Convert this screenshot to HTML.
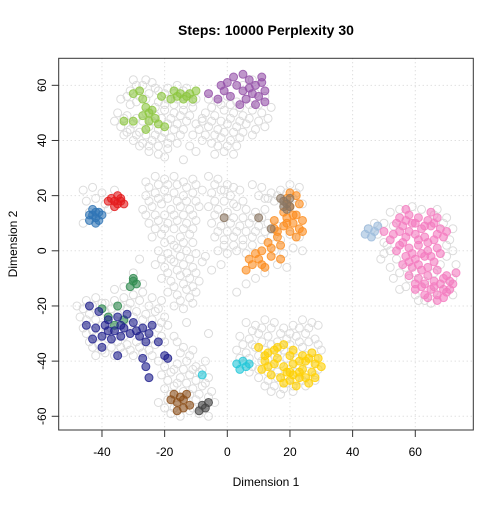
<!DOCTYPE html>
<html><head><meta charset="utf-8"><style>
body{margin:0;background:#fff}
svg{font-family:"Liberation Sans",Arial,sans-serif}
</style></head><body>
<svg id="chart" width="504" height="504" viewBox="0 0 504 504">
<rect x="0" y="0" width="504" height="504" fill="#fff"/>
<text x="266" y="35" text-anchor="middle" font-weight="bold" font-size="14">Steps: 10000 Perplexity 30</text>
<g id="grid"></g>
<g id="gray"></g>
<g id="colored"></g>
<rect x="58.7" y="58.3" width="414.6" height="371.7" fill="none" stroke="#333" stroke-width="1"/>
<g id="axes"></g>
<text x="266" y="486" text-anchor="middle" font-size="12">Dimension 1</text>
<text x="17" y="244" text-anchor="middle" font-size="12" transform="rotate(-90 17 244)">Dimension 2</text>
</svg>
<script>
const xTicks=[-40,-20,0,20,40,60];
const yTicks=[-60,-40,-20,0,20,40,60];
const grayPts="-30 62,-27 60,-24 61,-31 58,-28 56,-25 57,-22 58,-19 59,-16 60,-13 59,-34 55,-31 53,-22 54,-19 55,-16 55,-13 56,-10 55,-35 50,-32 49,-29 48,-26 50,-23 49,-20 51,-17 50,-14 51,-11 52,-34 45,-31 44,-28 43,-25 45,-22 44,-19 46,-16 46,-13 47,-30 40,-27 39,-24 40,-21 41,-18 41,-15 42,-25 36,-22 35,-19 37,-33 42,-36 47,-8 48,-9 44,-6 55,-3 54,0 56,3 54,6 55,9 57,12 56,-7 50,-4 49,-1 51,2 50,5 49,8 51,11 50,14 52,-6 45,-3 44,0 46,3 45,6 46,9 44,12 45,-8 40,-5 39,-2 41,1 40,4 41,-1 36,-4 35,2 35,-12 38,-14 33,5 60,8 62,-46 22,-43 23,-40 21,-45 18,-42 19,-39 17,-44 14,-41 13,-38 15,-36 22,-46 10,-26 25,-23 27,-20 26,-17 27,-14 25,-11 26,-26 20,-23 21,-20 22,-17 21,-14 20,-11 21,-8 22,-27 15,-24 16,-21 17,-18 15,-15 16,-12 15,-9 16,-25 10,-22 11,-19 10,-16 11,-13 10,-10 11,-24 5,-21 6,-18 4,-15 5,-12 6,-22 0,-19 -1,-16 1,-13 0,-10 -1,-23 -5,-20 -6,-17 -4,-14 -5,-11 -6,-8 -4,-21 -10,-18 -11,-15 -9,-12 -10,-9 -11,-19 -15,-16 -16,-13 -14,-10 -15,-17 -20,-14 -21,-11 -19,-28 -3,-30 -8,-27 -12,-6 27,-3 26,0 24,-5 21,-2 22,1 20,4 22,-6 16,-3 15,0 14,3 16,6 15,9 14,12 15,-5 10,-2 9,1 10,4 9,7 10,10 9,13 10,16 9,-4 5,-1 4,2 5,5 4,8 5,11 4,-3 0,0 -1,3 0,6 -1,8 24,11 23,14 21,17 22,20 24,23 23,15 18,18 17,21 19,24 17,12 19,-7 -2,-5 -7,-2 -5,-48 -20,-45 -18,-42 -17,-39 -19,-36 -18,-33 -17,-30 -16,-27 -15,-24 -17,-21 -18,-47 -24,-44 -23,-41 -22,-38 -24,-35 -23,-32 -21,-29 -22,-26 -23,-23 -22,-20 -24,-46 -28,-43 -29,-40 -27,-37 -28,-34 -29,-31 -27,-28 -28,-25 -29,-22 -28,-19 -27,-44 -33,-41 -34,-38 -32,-35 -33,-32 -34,-29 -33,-26 -32,-23 -34,-20 -33,-42 -38,-39 -37,-36 -38,-33 -37,-30 -38,-27 -37,-24 -38,-30 -10,-33 -13,-36 -14,-22 -40,-19 -39,-16 -41,-13 -40,-10 -42,-7 -40,-21 -45,-18 -44,-15 -46,-12 -45,-9 -44,-6 -46,-20 -50,-17 -49,-14 -51,-11 -50,-8 -49,-5 -51,-22 -55,-19 -54,-16 -56,-13 -55,-10 -54,-7 -56,-18 -59,-15 -60,-12 -58,-9 -59,-6 -60,-4 -55,-14 -35,-11 -36,-17 -31,-13 -26,-6 -30,6 -26,9 -27,12 -25,15 -26,18 -28,21 -27,24 -25,27 -26,4 -31,7 -32,10 -30,13 -31,16 -33,19 -32,22 -31,25 -30,28 -32,3 -36,6 -37,9 -35,12 -36,15 -38,18 -36,21 -37,24 -35,27 -37,30 -36,5 -41,8 -42,11 -40,14 -42,17 -41,20 -43,23 -42,26 -41,29 -43,10 -46,13 -47,16 -46,19 -48,22 -47,25 -49,28 -47,14 -51,17 -52,21 -51,29 -27,14 5,17 4,20 6,23 5,15 0,18 -1,21 1,24 0,16 -5,19 -6,12 -8,9 -10,6 -12,3 -15,45 8,48 6,50 3,52 0,49 -3,52 -6,55 -8,58 -10,55 -14,60 -16,63 -18,66 -15,70 -13,72 -10,73 -5,70 2,72 8,70 12,67 15,52 14";
const grayPts2="-29 60,-26 62,-23 59,-20 57,-17 57,-14 58,-32 56,-29 54,-26 55,-23 52,-20 53,-17 53,-14 53,-11 54,-33 48,-30 46,-27 47,-24 47,-21 48,-18 48,-15 49,-12 49,-32 43,-29 42,-26 42,-23 42,-20 43,-17 44,-14 44,-28 38,-25 38,-22 38,-19 39,-16 39,-20 34,-10 46,-11 42,-5 52,-2 53,1 53,4 52,7 53,10 53,-8 47,-5 47,-2 47,1 48,4 47,7 48,10 47,13 48,-7 42,-4 42,-1 43,2 43,5 43,8 42,-3 38,0 38,3 38,-10 36,-25 23,-22 24,-19 24,-16 24,-13 23,-10 24,-25 18,-22 19,-19 19,-16 18,-13 18,-10 18,-26 13,-23 13,-20 13,-17 13,-14 13,-11 13,-23 8,-20 8,-17 8,-14 8,-11 8,-20 3,-17 2,-14 3,-11 3,-21 -3,-18 -3,-15 -2,-12 -3,-19 -8,-16 -7,-13 -8,-10 -8,-17 -13,-14 -12,-11 -13,-15 -18,-12 -17,-4 24,-1 22,2 23,-4 18,-1 18,2 17,5 18,-4 13,-1 12,2 12,5 12,8 12,11 12,-3 7,0 7,3 7,6 7,9 7,12 7,-1 2,2 2,5 2,8 2,10 20,13 19,16 20,19 21,22 21,-46 -21,-43 -20,-40 -19,-37 -21,-34 -20,-31 -19,-28 -18,-25 -20,-22 -21,-45 -25,-42 -25,-39 -22,-36 -25,-33 -26,-30 -24,-27 -25,-24 -25,-21 -26,-45 -30,-42 -31,-39 -30,-36 -31,-33 -31,-30 -29,-27 -31,-24 -32,-21 -31,-43 -35,-40 -36,-37 -35,-34 -35,-31 -36,-28 -35,-25 -36,-20 -42,-17 -43,-14 -43,-11 -43,-8 -43,-19 -47,-16 -48,-13 -48,-10 -47,-7 -48,-18 -52,-15 -53,-12 -52,-9 -52,-6 -53,-20 -57,-17 -57,-11 -57,-8 -57,-15 -37,-12 -38,-16 -33,8 -29,11 -28,14 -28,17 -30,20 -30,23 -28,26 -28,5 -34,8 -34,11 -33,14 -34,17 -35,20 -34,23 -33,26 -33,29 -34,4 -39,7 -39,10 -38,13 -39,16 -37,19 -39,22 -39,25 -38,28 -39,7 -44,10 -43,13 -44,16 -44,19 -45,22 -44,25 -45,28 -45,12 -49,15 -49,18 -50,21 -49,24 -47,47 10,50 10,53 9,51 2,50 -1,54 -3,57 -6,60 -8,63 -11,66 -8,68 -5,70 -2,72 0,71 4,69 10,66 13,62 15,59 16,55 15,53 -10,57 -13,61 -18,65 -19,72 -16";
const greenPts="-30 57,-28 58,-27 55,-26 52,-25 50,-27 49,-24 51,-23 48,-22 46,-25 47,-20 45,-30 47,-33 47,-26 44,-15 57,-16 56,-13 56,-12 57,-17 58,-14 55,-11 55,-18 55,-10 58,-21 56";
const purplePts="2 63,5 64,7 62,9 60,11 61,12 58,10 56,8 57,5 58,3 60,6 55,4 53,1 56,-1 58,-3 55,-6 57,-2 60,12 54,9 53,7 59,11 63,0 61";
const redPts="-37 19,-36 18,-35 20,-34 18,-33 17,-36 16,-38 18,-35 17,-34 19";
const bluePts="-43 13,-42 12,-41 14,-44 11,-42 10,-43 15,-41 11,-44 13,-40 13,-42 14";
const lightbluePts="45 8,47 7,46 5,48 9,44 6";
const pinkPts="55 12,58 13,61 12,64 11,67 12,56 9,59 10,62 8,65 9,68 8,53 6,57 5,60 6,63 5,66 4,69 5,55 2,58 1,61 2,64 0,67 1,57 -2,60 -3,63 -2,66 -4,56 -5,59 -6,62 -7,58 -9,61 -10,64 -9,62 -13,65 -14,68 -12,67 -16,70 -15,72 -12,70 -9,71 -11,63 -16,66 -11,69 -14,54 0,52 4,50 7,57 15,65 14,60 -14,69 -17,73 -8,54 10,57 11,60 10,63 9,66 10,55 7,58 7,61 4,64 3,67 6,70 7,56 3,59 -1,62 -1,65 -2,68 -1,58 -4,61 -5,64 -6,67 -7,60 -12,63 -12,66 -13,69 -10,64 -17,67 -18,71 -14";
const orangePts="19 19,22 20,20 16,18 14,22 13,24 11,21 10,18 9,15 8,20 7,23 8,16 5,13 3,17 2,11 0,14 -2,10 -3,8 -5,12 -6,6 -7,9 -1,19 12,15 11,24 7,17 -3,20 21,23 17,21 13,19 10,16 7,22 5,14 1,11 -5,7 -3";
const taupePts="18 18,19 17,20 19,18 16,19 15,17 19,20 16,-1 12,10 12,14 8";
const darkgreenPts="-30 -10,-29 -12,-31 -13,-30 -11,-35 -20,-38 -24,-40 -21,-36 -27,-33 -25";
const navyPts="-44 -20,-41 -22,-38 -25,-45 -27,-42 -28,-39 -27,-36 -29,-33 -28,-30 -26,-27 -28,-24 -27,-40 -31,-37 -32,-34 -31,-31 -30,-28 -31,-25 -30,-43 -32,-35 -24,-32 -23,-26 -33,-22 -33,-20 -38,-19 -39,-27 -39,-26 -42,-25 -46,-35 -38,-40 -35,-38 -29,-34 -27,-29 -29";
const goldPts="10 -35,13 -37,16 -35,18 -34,21 -36,24 -38,27 -37,29 -39,12 -40,15 -41,18 -42,21 -41,24 -43,27 -44,30 -42,14 -45,17 -46,20 -47,23 -46,26 -48,22 -49,19 -44,16 -39,25 -40,28 -41,11 -43,12 -38,15 -36,20 -38,23 -40,26 -39,13 -42,20 -44,23 -44,25 -46,18 -48,21 -45,28 -46";
const cyanPts="3 -41,5 -40,6 -42,4 -43,7 -41,-8 -45";
const brownPts="-17 -52,-15 -53,-13 -52,-16 -55,-14 -54,-18 -54,-12 -56,-16 -58,-14 -57";
const blackPts="-8 -56,-7 -57,-9 -58,-6 -55";

const NS="http://www.w3.org/2000/svg";
function xs(x){return 227.3+x*3.133;}
function ys(y){return 250.8-y*2.758;}
function parse(s){return s.split(",").map(p=>p.trim().split(/\s+/).map(Number));}
const grid=document.getElementById("grid"),axes=document.getElementById("axes");
xTicks.forEach(t=>{
  const l=document.createElementNS(NS,"line");
  
  
  l.setAttribute("x1",xs(t));l.setAttribute("x2",xs(t));l.setAttribute("y1",58.3);l.setAttribute("y2",430);
  l.setAttribute("stroke","#d3d3d3");l.setAttribute("stroke-dasharray","1 3");grid.appendChild(l);
  const tk=document.createElementNS(NS,"line");
  
  
  tk.setAttribute("x1",xs(t));tk.setAttribute("x2",xs(t));tk.setAttribute("y1",430);tk.setAttribute("y2",437);
  tk.setAttribute("stroke","#333");axes.appendChild(tk);
  const tx=document.createElementNS(NS,"text");
  
  
  tx.setAttribute("x",xs(t));tx.setAttribute("y",456);tx.setAttribute("text-anchor","middle");tx.setAttribute("font-size","12");
  tx.textContent=t;axes.appendChild(tx);
});
yTicks.forEach(t=>{
  const l=document.createElementNS(NS,"line");
  
  
  l.setAttribute("y1",ys(t));l.setAttribute("y2",ys(t));l.setAttribute("x1",58.7);l.setAttribute("x2",473.3);
  l.setAttribute("stroke","#d3d3d3");l.setAttribute("stroke-dasharray","1 3");grid.appendChild(l);
  const tk=document.createElementNS(NS,"line");
  
  
  tk.setAttribute("y1",ys(t));tk.setAttribute("y2",ys(t));tk.setAttribute("x1",51.7);tk.setAttribute("x2",58.7);
  tk.setAttribute("stroke","#333");axes.appendChild(tk);
  const tx=document.createElementNS(NS,"text");
  
  
  const X=46,Y=ys(t);
  tx.setAttribute("x",X);tx.setAttribute("y",Y);tx.setAttribute("text-anchor","middle");tx.setAttribute("font-size","12");
  tx.setAttribute("transform","rotate(-90 "+X+" "+Y+")");
  tx.textContent=t;axes.appendChild(tx);
});
const gg=document.getElementById("gray");
[grayPts,grayPts2].forEach(s=>parse(s).forEach(([x,y])=>{
  const c=document.createElementNS(NS,"circle");
  
  
  c.setAttribute("cx",xs(x));c.setAttribute("cy",ys(y));c.setAttribute("r",4);
  c.setAttribute("fill","none");c.setAttribute("stroke","#dcdcdc");c.setAttribute("stroke-width","1");gg.appendChild(c);
}));
const cg=document.getElementById("colored");
const seriesList=[[greenPts,"#8cc63f"],[purplePts,"#9450a8"],[redPts,"#e41a1c"],[bluePts,"#2f74b5"],[lightbluePts,"#9cbcdc"],[pinkPts,"#f47cbf"],[orangePts,"#fb8c1e"],[taupePts,"#8a7560"],[darkgreenPts,"#2e8b4f"],[navyPts,"#1e1e8c"],[goldPts,"#ffd000"],[cyanPts,"#22c7d8"],[brownPts,"#8b4d18"],[blackPts,"#444444"]];
seriesList.forEach(([s,col])=>{
  parse(s).forEach(([x,y])=>{
    const c=document.createElementNS(NS,"circle");
    
    
    c.setAttribute("cx",xs(x));c.setAttribute("cy",ys(y));c.setAttribute("r",4);
    c.setAttribute("fill",col);c.setAttribute("fill-opacity","0.6");c.setAttribute("stroke",col);c.setAttribute("stroke-opacity","0.8");
    cg.appendChild(c);
  });
});
</script>
</body></html>
